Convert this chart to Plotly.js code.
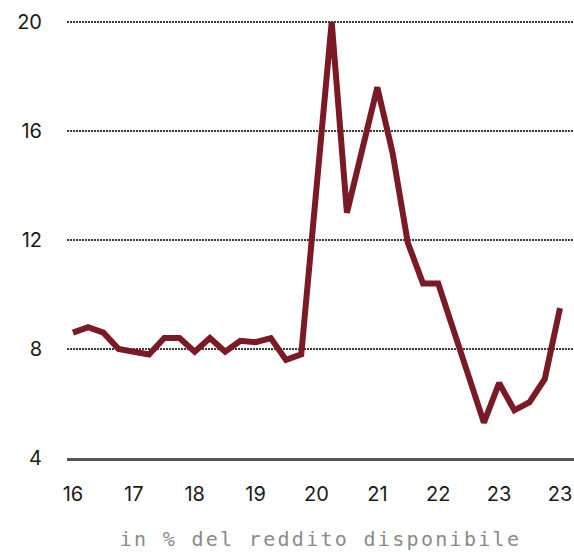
<!DOCTYPE html>
<html>
<head>
<meta charset="utf-8">
<script src="https://cdn.plot.ly/plotly-3.0.1.min.js"></script>
<style>
html,body{margin:0;padding:0;background:#fff;}
#chart{width:574px;height:552px;}
.xtitle{letter-spacing:2.3px;}
</style>
</head>
<body>
<div id="chart"></div>
<script>
// Quarterly periods 2016Q1 .. 2024Q1
var quarters = ["2016Q1","2016Q2","2016Q3","2016Q4","2017Q1","2017Q2","2017Q3","2017Q4",
  "2018Q1","2018Q2","2018Q3","2018Q4","2019Q1","2019Q2","2019Q3","2019Q4",
  "2020Q1","2020Q2","2020Q3","2020Q4","2021Q1","2021Q2","2021Q3","2021Q4",
  "2022Q1","2022Q2","2022Q3","2022Q4","2023Q1","2023Q2","2023Q3","2023Q4","2024Q1"];
var values = [8.6, 8.8, 8.6, 8.0, 7.9, 7.8, 8.4, 8.4,
  7.9, 8.4, 7.9, 8.3, 8.25, 8.4, 7.6, 7.8,
  13.9, 20.0, 13.0, 15.3, 17.6, 15.2, 11.9, 10.4,
  10.4, 8.7, 7.0, 5.3, 6.75, 5.75, 6.05, 6.9, 9.5];
var tickPositions = ["2016Q1","2017Q1","2018Q1","2019Q1","2020Q1","2021Q1","2022Q1","2023Q1","2024Q1"];
var tickLabels = ["16","17","18","19","20","21","22","23","23"];
var yTicks = [4, 8, 12, 16, 20];

var xIdx = quarters.map(function(q, i){ return i; });
var tickIdx = tickPositions.map(function(q){ return quarters.indexOf(q); });

var trace = {
  x: xIdx,
  y: values,
  type: 'scatter',
  mode: 'lines',
  line: {color: '#7a1a24', width: 6, shape: 'linear'},
  hoverinfo: 'skip'
};

var layout = {
  width: 574,
  height: 552,
  margin: {l: 67, r: 0, t: 14, b: 94},
  paper_bgcolor: '#ffffff',
  plot_bgcolor: '#ffffff',
  showlegend: false,
  font: {family: 'Inter, "Noto Sans", sans-serif', color: '#1a1a1a'},
  xaxis: {
    range: [-0.39, 32.92],
    tickmode: 'array',
    tickvals: tickIdx,
    ticktext: tickLabels,
    showgrid: false,
    zeroline: false,
    showline: true,
    linecolor: '#555555',
    linewidth: 2.5,
    ticks: 'outside',
    ticklen: 16,
    tickcolor: 'rgba(0,0,0,0)',
    tickfont: {family: 'Inter, "Noto Sans", sans-serif', size: 20, color: '#1a1a1a'},
    title: {
      text: 'in % del reddito disponibile',
      font: {family: '"DejaVu Sans Mono", "Liberation Mono", monospace', size: 20, color: '#8a8a8a'},
      standoff: 28
    },
    fixedrange: true
  },
  yaxis: {
    range: [4, 20.29],
    tickmode: 'array',
    tickvals: yTicks,
    ticktext: yTicks.map(String),
    showgrid: true,
    gridcolor: '#3a3a3a',
    gridwidth: 1.5,
    griddash: '1.5px,1.5px',
    zeroline: false,
    showline: false,
    ticks: 'outside',
    ticklen: 20,
    tickcolor: 'rgba(0,0,0,0)',
    tickfont: {family: 'Inter, "Noto Sans", sans-serif', size: 20, color: '#1a1a1a'},
    fixedrange: true
  }
};

Plotly.newPlot('chart', [trace], layout, {staticPlot: true, displayModeBar: false});
</script>
</body>
</html>
